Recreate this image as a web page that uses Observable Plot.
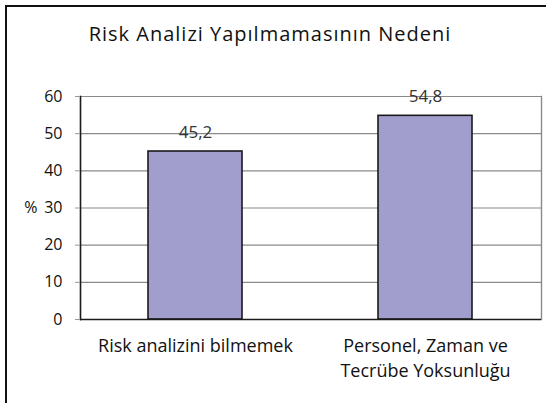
<!DOCTYPE html>
<html>
<head>
<meta charset="utf-8">
<script src="https://cdn.jsdelivr.net/npm/d3@7"></script>
<script src="https://cdn.jsdelivr.net/npm/@observablehq/plot@0.6"></script>
<style>
  html, body { margin: 0; padding: 0; background: #fff; }
  #wrap { position: relative; width: 546px; height: 403px; overflow: hidden; font-family: "Open Sans", sans-serif; }
  #border { position: absolute; left: 5px; top: 5px; width: 560px; height: 420px; border-left: 2px solid #111; border-top: 2px solid #111; }
  #title { position: absolute; left: 0; width: 540px; top: 20px; text-align: center; font-size: 20px; color: #111; letter-spacing: 1px; }
  #chart { position: absolute; left: 0; top: 0; }
</style>
</head>
<body>
<div id="wrap">
  <div id="border"></div>
  <div id="title">Risk Analizi Yapılmamasının Nedeni</div>
  <div id="chart"></div>
</div>
<script>
const categories = ["Risk analizini bilmemek", "Personel, Zaman ve\nTecrübe Yoksunluğu"];
const values = [45.2, 54.8];
const valueLabels = ["45,2", "54,8"];
const yTicks = [0, 10, 20, 30, 40, 50, 60];
const yLabel = "%";

const data = categories.map((c, i) => ({cat: c, value: values[i], label: valueLabels[i]}));

const W = 546, H = 403, mL = 80, mR = 5, mT = 96, mB = 84;

const chart = Plot.plot({
  width: W,
  height: H,
  marginLeft: mL,
  marginRight: mR,
  marginTop: mT,
  marginBottom: mB,
  style: {fontFamily: "Open Sans, sans-serif", background: "transparent"},
  x: {domain: categories, paddingInner: 0.59, paddingOuter: 0.295, label: null},
  y: {domain: [0, 60], ticks: yTicks, label: null},
  marks: [
    Plot.ruleY(yTicks.filter(d => d > 0), {stroke: "#8a8a8a", strokeWidth: 1.2}),
    Plot.frame({anchor: "right", stroke: "#8a8a8a", strokeWidth: 1.4}),
    Plot.barY(data, {x: "cat", y: "value", fill: "#a19ecd", stroke: "#1a1a1a", strokeWidth: 1.6}),
    Plot.ruleY([0], {stroke: "#1a1a1a", strokeWidth: 1.6}),
    Plot.frame({anchor: "left", stroke: "#1a1a1a", strokeWidth: 1.6}),
    Plot.text(data, {x: "cat", y: "value", text: "label", dy: -19, fontSize: 17, fill: "#333"}),
    Plot.axisY({ticks: yTicks, tickSize: 5, tickPadding: 13, stroke: "#999", fontSize: 16, fill: "#111"}),
    Plot.text([yLabel], {frameAnchor: "left", y: 30, dx: -43, text: d => d, fontSize: 16, fill: "#111", textAnchor: "end"}),
    Plot.axisX({tickSize: 0, tickPadding: 15, fontSize: 18, lineHeight: 1.39, fill: "#111", textAnchor: "middle", lineAnchor: "top"})
  ]
});
document.getElementById("chart").appendChild(chart);
</script>
</body>
</html>
